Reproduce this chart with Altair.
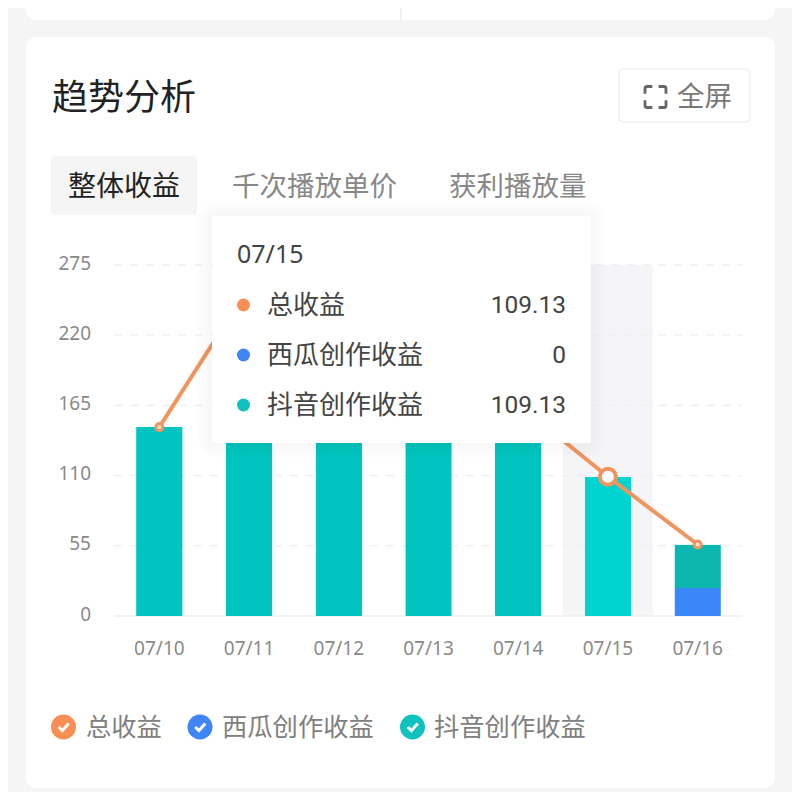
import altair as alt
import pandas as pd

dates = ["07/10", "07/11", "07/12", "07/13", "07/14", "07/15", "07/16"]
total = [148, 258, 232, 200, 166, 109.13, 56]
xigua = [0, 0, 0, 0, 0, 0, 22]
douyin = [148, 258, 232, 200, 166, 109.13, 34]
y_ticks = [0, 55, 110, 165, 220, 275]
grid_ticks = [55, 110, 165, 220, 275]
hover_date = "07/15"
s_total, s_xigua, s_douyin = "总收益", "西瓜创作收益", "抖音创作收益"
tabs = ["整体收益", "千次播放单价", "获利播放量"]

ORANGE, BLUE, TEAL = "#f98e55", "#3f85f5", "#10c2bd"
FONT = "Noto Sans CJK SC"
OX, OY = 114.5, 265.0   # page position of the plot origin
W, H = 628, 351
PAD_INNER = 0.48

bars_df = pd.DataFrame(
    [{"date": d, "series": s_xigua, "value": v, "o": 0} for d, v in zip(dates, xigua)]
    + [{"date": d, "series": s_douyin, "value": v, "o": 1} for d, v in zip(dates, douyin)]
)
total_df = pd.DataFrame({"date": dates, "total": total})
blank = alt.Data(values=[{"k": 1}])


def box(x0, y0, x1, y1, **kw):
    return alt.Chart(blank).mark_rect(**kw).encode(
        x=alt.value(x0 - OX), x2=alt.value(x1 - OX), y=alt.value(y0 - OY), y2=alt.value(y1 - OY)
    )


def label(s, x, y, size, color, align="left", font=FONT, **kw):
    return alt.Chart(blank).mark_text(
        fontSize=size, color=color, align=align, baseline="middle", font=font, **kw
    ).encode(x=alt.value(x - OX), y=alt.value(y - OY), text=alt.value(s))


def dot(x, y, size, color, **kw):
    return alt.Chart(blank).mark_point(filled=True, fill=color, size=size, opacity=1, shape="circle", **kw).encode(
        x=alt.value(x - OX), y=alt.value(y - OY)
    )


def glyph(path, x, y, size, color, width):
    return alt.Chart(blank).mark_point(
        shape=path, size=size, filled=False, stroke=color, strokeWidth=width, opacity=1
    ).encode(x=alt.value(x - OX), y=alt.value(y - OY))


CHECK = "M-0.55,0 L-0.12,0.42 L0.6,-0.4"
CORNERS = ("M-1,-0.3 L-1,-0.8 Q-1,-1 -0.8,-1 L-0.3,-1 M0.3,-1 L0.8,-1 Q1,-1 1,-0.8 L1,-0.3 "
           "M1,0.3 L1,0.8 Q1,1 0.8,1 L0.3,1 M-0.3,1 L-0.8,1 Q-1,1 -1,0.8 L-1,0.3")

chrome = [
    box(26, -20, 775, 20, fill="#ffffff", cornerRadius=10),
    box(400, 0, 401.5, 20, fill="#eeeeee"),
    box(26, 37, 775, 788, fill="#ffffff", cornerRadius=10),
    label("趋势分析", 52, 99, 36, "#222222"),
    box(619, 69, 750, 122, fill="#ffffff", stroke="#ececec", strokeWidth=1.2, cornerRadius=4),
    glyph(CORNERS, 655.5, 97, 441, "#666666", 2.8),
    label("全屏", 677, 98, 27.5, "#777777"),
    box(51, 156, 197, 215, fill="#f5f5f5", cornerRadius=4),
    label(tabs[0], 68, 188, 28, "#222222"),
    label(tabs[1], 232, 188, 27.5, "#888888"),
    label(tabs[2], 449, 188, 27.5, "#888888"),
]

x_enc = alt.X(
    "date:N", sort=dates, title=None,
    scale=alt.Scale(domain=dates, paddingInner=PAD_INNER, paddingOuter=PAD_INNER / 2),
    axis=alt.Axis(labelAngle=0, labelFont="Noto Sans", labelFontSize=19, labelColor="#8a8a8a",
                  labelPadding=23, ticks=False, domain=False, grid=False, zindex=1),
)
y_scale = alt.Scale(domain=[0, 275], nice=False)
y_axis = alt.Axis(values=y_ticks, labelFont="Noto Sans", labelFontSize=19, labelColor="#8a8a8a",
                  labelPadding=24, labelOffset=-2, ticks=False, domain=False, grid=False, zindex=1, title=None)


def y_of(field):
    return alt.Y(field, title=None, scale=y_scale, axis=y_axis)


band = alt.Chart(pd.DataFrame({"date": [hover_date]})).mark_bar(
    width=alt.RelativeBandSize(band=1 / (1 - PAD_INNER)), fill="#f5f5f8"
).encode(x=x_enc, y=alt.value(0), y2=alt.value(H))

grid = alt.Chart(pd.DataFrame({"v": grid_ticks})).mark_rule(
    color="#eeeeee", strokeWidth=1.3, strokeDash=[8, 8]
).encode(y=y_of("v:Q"), x=alt.value(0), x2=alt.value(W))

zero = alt.Chart(pd.DataFrame({"v": [0]})).mark_rule(color="#eeeeee", strokeWidth=1.3).encode(
    y=y_of("v:Q"), x=alt.value(0), x2=alt.value(W)
)

bars = alt.Chart(bars_df).transform_calculate(
    tone="datum.series === '%s' ? 'blue' : datum.date === '%s' ? 'hover' : datum.date === '07/16' ? 'last' : 'base'"
    % (s_xigua, hover_date)
).mark_bar(size=46.5, cornerRadius=1).encode(
    x=x_enc,
    y=alt.Y("value:Q", title=None, scale=y_scale, axis=y_axis, stack="zero"),
    order=alt.Order("o:Q"),
    color=alt.Color("tone:N", legend=None, scale=alt.Scale(
        domain=["blue", "hover", "last", "base"],
        range=["#3b86f9", "#00d4d0", "#0bb7af", "#00c4bf"])),
)

line = alt.Chart(total_df).mark_line(color="#f0955f", strokeWidth=4).encode(
    x=x_enc, y=y_of("total:Q")
)

points = alt.Chart(total_df).transform_filter(f"datum.date !== '{hover_date}'").mark_point(
    filled=True, fill="#ffe3c8", stroke="#f0955f", strokeWidth=3, size=50, opacity=1
).encode(x=x_enc, y=y_of("total:Q"))

hover_point = alt.Chart(total_df).transform_filter(f"datum.date === '{hover_date}'").mark_point(
    filled=True, fill="#ffffff", stroke="#f0955f", strokeWidth=4, size=256, opacity=1
).encode(x=x_enc, y=y_of("total:Q"))

h = dates.index(hover_date)
NUM = "Roboto"
tip = [
    box(212 - e, 216 - e, 591 + e, 443 + e, fill="#000000", opacity=0.006, cornerRadius=e + 2)
    for e in (14, 10, 6, 3)
] + [
    box(212, 216, 591, 443, fill="#ffffff", cornerRadius=2),
    label(dates[h], 237, 255, 25, "#444444", font="Noto Sans"),
    dot(243.5, 305, 169, ORANGE),
    label(s_total, 267, 306, 26, "#444444"),
    label(f"{total[h]:g}", 566, 306, 24.5, "#444444", align="right", font=NUM),
    dot(243.5, 355, 169, BLUE),
    label(s_xigua, 267, 356, 26, "#444444"),
    label(f"{xigua[h]:g}", 566, 356, 24.5, "#444444", align="right", font=NUM),
    dot(243.5, 405, 169, TEAL),
    label(s_douyin, 267, 406, 26, "#444444"),
    label(f"{douyin[h]:g}", 566, 406, 24.5, "#444444", align="right", font=NUM),
]

legend = []
for name, color, cx, tx in [(s_total, ORANGE, 63.5, 86), (s_xigua, BLUE, 200, 222), (s_douyin, TEAL, 412.5, 434)]:
    legend += [
        dot(cx, 727, 625, color),
        glyph(CHECK, cx, 727, 300, "#ffffff", 3),
        label(name, tx, 728, 25.3, "#808080"),
    ]

chart = alt.layer(
    *chrome, band, grid, zero, bars, line, points, hover_point, *tip, *legend
).resolve_scale(color="independent").properties(
    width=W, height=H,
    background="#f5f5f5",
    padding={"left": OX - 8, "top": OY - 8, "right": 784 - (OX - 8) - W, "bottom": 784 - (OY - 8) - H},
    autosize=alt.AutoSizeParams(type="none"),
).configure_view(stroke=None)

chart.save("out.html", embed_options={"renderer": "svg", "actions": False})
